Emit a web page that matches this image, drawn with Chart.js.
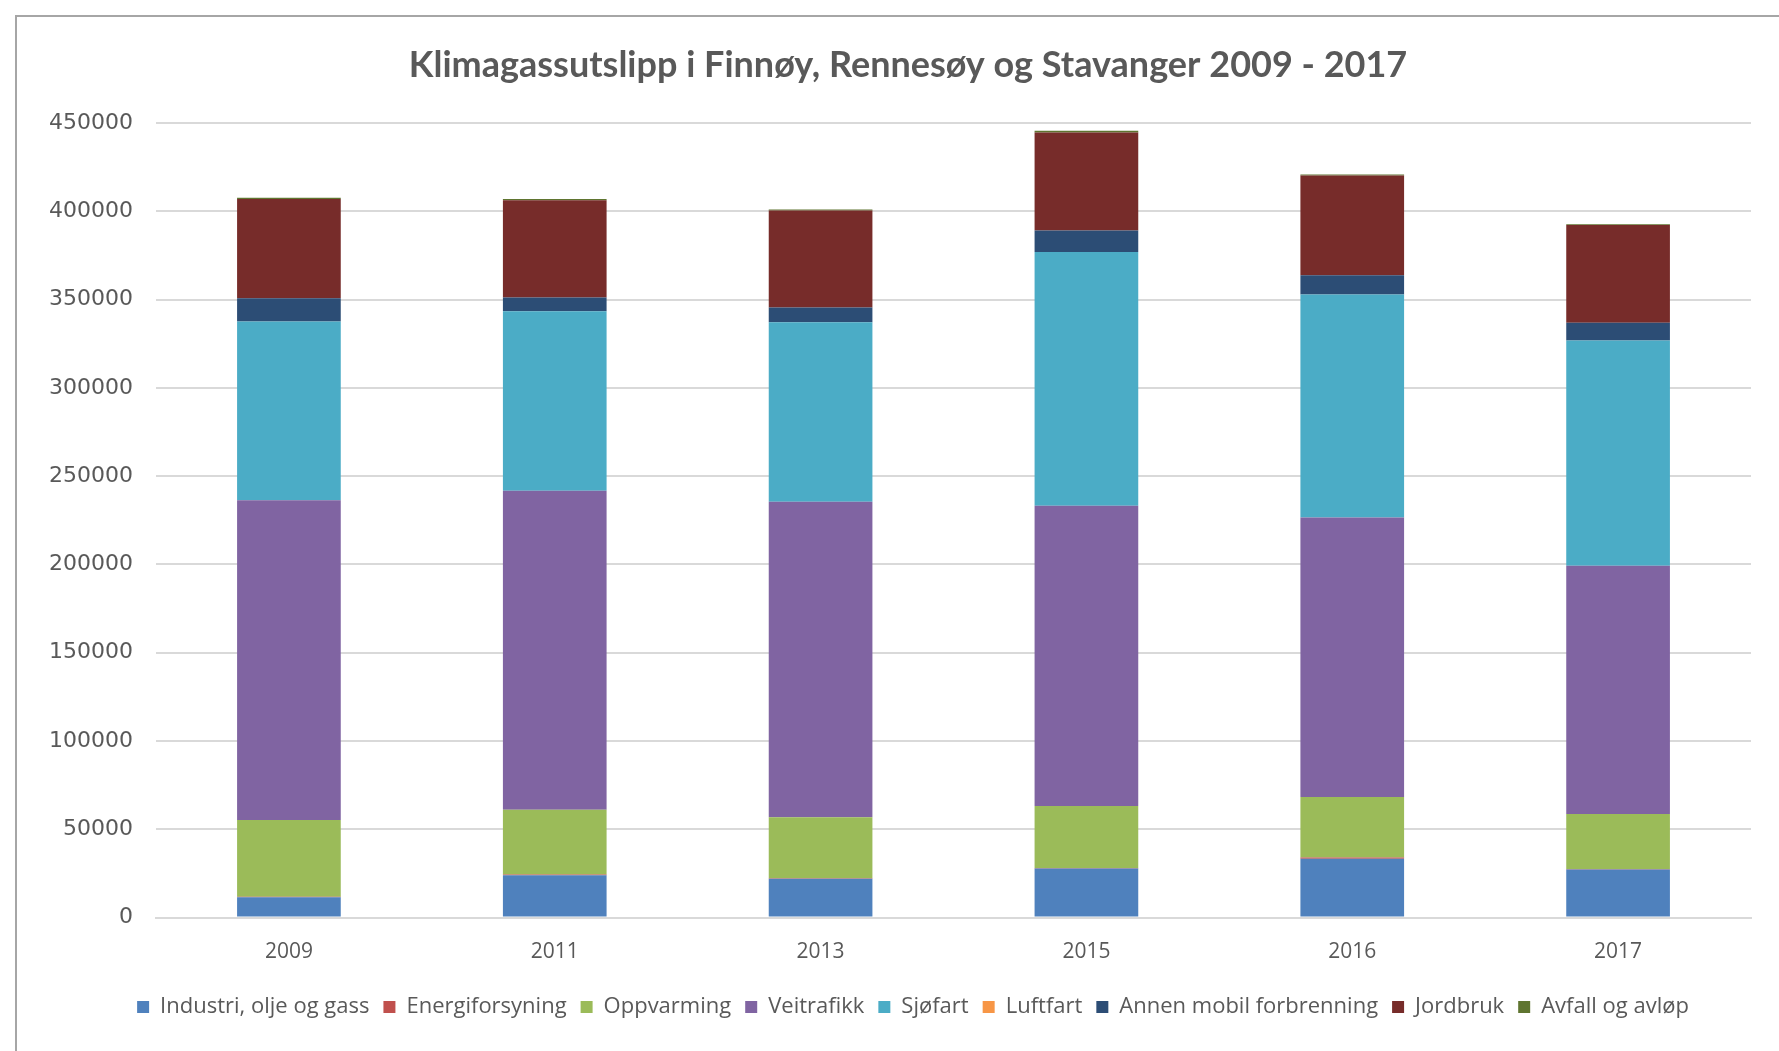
<!DOCTYPE html>
<html>
<head>
<meta charset="utf-8">
<script src="https://cdn.jsdelivr.net/npm/chart.js@4.4.0/dist/chart.umd.min.js"></script>
<style>
  html, body { margin: 0; padding: 0; background: #fff; overflow: hidden; }
  #box {
    position: absolute; left: 15px; top: 15px;
    border-left: 2px solid #a6a6a6; border-top: 2px solid #a6a6a6;
    width: 1790px; height: 1040px;
  }
</style>
</head>
<body>
<div id="box"><canvas id="myChart" width="1784" height="1033"></canvas></div>
<script>
const years = ["2009", "2011", "2013", "2015", "2016", "2017"];

const industri = [11500, 24000, 21900, 27700, 33300, 27200];
const energiforsyning = [300, 300, 300, 300, 700, 300];
const oppvarming = [43400, 36800, 34600, 35100, 34300, 31200];
const veitrafikk = [181200, 180700, 178700, 170200, 158300, 140600];
const sjofart = [101300, 101600, 101800, 143800, 126300, 127600];
const luftfart = [0, 0, 0, 0, 0, 0];
const annenMobil = [13100, 7800, 8300, 12100, 11000, 10000];
const jordbruk = [56200, 55200, 54900, 55600, 56500, 55400];
const avfall = [800, 600, 600, 900, 500, 500];

const yTicks = [0, 50000, 100000, 150000, 200000, 250000, 300000, 350000, 400000, 450000];

const grey = "#595959";

function ds(label, data, color) {
  return {
    label: label,
    data: data,
    backgroundColor: color,
    borderWidth: 0,
    barPercentage: 0.39,
    categoryPercentage: 1
  };
}

// title and legend are centred on the whole chart box, not on the plot
const shiftBlocks = {
  id: "shiftBlocks",
  afterLayout(chart) {
    chart.titleBlock.left += 24;
    chart.titleBlock.right += 24;
    chart.legend.left += 29;
    chart.legend.right += 29;
  }
};

new Chart("myChart", {
  type: "bar",
  plugins: [shiftBlocks],
  data: {
    labels: years,
    datasets: [
      ds("Industri, olje og gass", industri, "#4f81bd"),
      ds("Energiforsyning", energiforsyning, "#c0504d"),
      ds("Oppvarming", oppvarming, "#9bbb59"),
      ds("Veitrafikk", veitrafikk, "#8064a2"),
      ds("Sjøfart", sjofart, "#4bacc6"),
      ds("Luftfart", luftfart, "#f79646"),
      ds("Annen mobil forbrenning", annenMobil, "#2c4d75"),
      ds("Jordbruk", jordbruk, "#772c2a"),
      ds("Avfall og avløp", avfall, "#5f7530")
    ]
  },
  options: {
    responsive: false,
    animation: false,
    devicePixelRatio: 1,
    layout: { padding: { left: 0, right: 50, top: 0, bottom: 22 } },
    plugins: {
      title: {
        display: true,
        text: "Klimagassutslipp i Finnøy, Rennesøy og Stavanger 2009 - 2017",
        color: grey,
        font: { family: "Lato", size: 36, weight: "bold" },
        padding: { top: 27, bottom: 36 }
      },
      legend: {
        position: "bottom",
        labels: {
          color: grey,
          font: { family: "Open Sans", size: 22 },
          boxWidth: 12,
          boxHeight: 12,
          padding: 14
        }
      },
      tooltip: { enabled: false }
    },
    scales: {
      x: {
        stacked: true,
        grid: { display: false, drawTicks: false },
        border: { color: "#d9d9d9", width: 2 },
        ticks: { color: grey, font: { family: "Open Sans", size: 21 }, padding: 22 },
        afterFit: function (scale) { scale.height = 64.5; }
      },
      y: {
        stacked: true,
        min: 0,
        max: 450000,
        afterBuildTicks: function (scale) {
          scale.ticks = yTicks.map(function (v) { return { value: v }; });
        },
        grid: { color: "#d9d9d9", lineWidth: 2, drawTicks: false },
        border: { display: false },
        ticks: {
          color: grey,
          font: { family: "DejaVu Sans", size: 22 },
          padding: 23,
          callback: function (v) { return String(v); }
        },
        afterFit: function (scale) { scale.width = 139; }
      }
    }
  }
});
</script>
</body>
</html>
